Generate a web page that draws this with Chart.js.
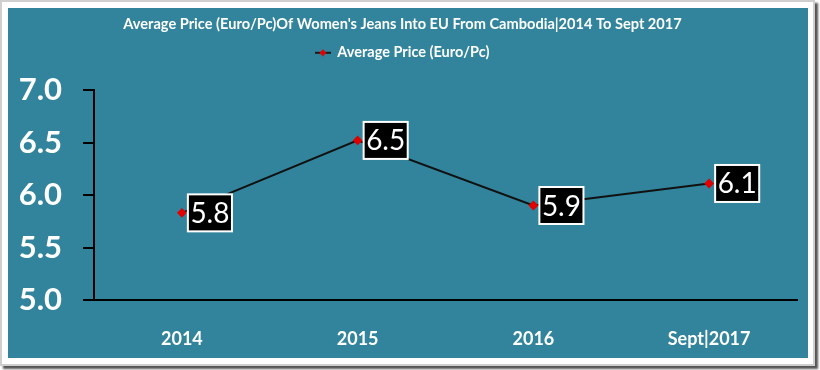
<!DOCTYPE html>
<html>
<head>
<meta charset="utf-8">
<script src="https://cdn.jsdelivr.net/npm/chart.js@4"></script>
<style>
  body { margin: 0; background: #fff; }
  .frame { position: absolute; left: 0; top: 0; width: 815px; height: 366px; box-sizing: border-box;
           border: 2px solid #cfcfcf; background: #fff; box-shadow: 3px 3px 2px #555; }
  .panel { position: absolute; left: 6px; top: 6px; width: 800px; height: 350px; background: #31849b; }
  canvas { display: block; }
</style>
</head>
<body>
<div class="frame">
  <div class="panel"><canvas id="chart" width="800" height="350"></canvas></div>
</div>
<script>
const categories = ["2014", "2015", "2016", "Sept|2017"];
const avgPrice = [5.83, 6.52, 5.90, 6.11];
const yTicks = [5.0, 5.5, 6.0, 6.5, 7.0];

const FONT = "Lato, 'Open Sans', sans-serif";

// legend marker: short dark line with red diamond
const marker = document.createElement("canvas");
marker.width = 16; marker.height = 8;
(() => {
  const c = marker.getContext("2d");
  c.strokeStyle = "#1a1a1a"; c.lineWidth = 2;
  c.beginPath(); c.moveTo(0, 4); c.lineTo(16, 4); c.stroke();
  c.fillStyle = "#e00000";
  c.beginPath(); c.moveTo(8, 0.5); c.lineTo(11.5, 4); c.lineTo(8, 7.5); c.lineTo(4.5, 4); c.closePath(); c.fill();
})();

const boxLabels = {
  id: "boxLabels",
  afterDatasetsDraw(chart) {
    const ctx = chart.ctx;
    const meta = chart.getDatasetMeta(0);
    ctx.save();
    ctx.font = "28px " + FONT;
    meta.data.forEach((pt, i) => {
      const txt = avgPrice[i].toFixed(1);
      const w = ctx.measureText(txt).width + 5;
      const h = 37;
      const x = pt.x + 6, y = pt.y - h / 2;
      ctx.fillStyle = "#000";
      ctx.fillRect(x, y, w, h);
      ctx.strokeStyle = "#fff"; ctx.lineWidth = 2;
      ctx.strokeRect(x, y, w, h);
      ctx.fillStyle = "#fff";
      ctx.textAlign = "center"; ctx.textBaseline = "middle";
      ctx.fillText(txt, x + w / 2, pt.y + 1);
    });
    ctx.restore();
  }
};

new Chart(document.getElementById("chart"), {
  type: "line",
  data: {
    labels: categories,
    datasets: [{
      label: "Average Price (Euro/Pc)",
      data: avgPrice,
      borderColor: "#111",
      borderWidth: 2,
      pointStyle: "rectRot",
      pointRadius: 3.5,
      pointBackgroundColor: "#e00000",
      pointBorderColor: "#e00000",
      tension: 0
    }]
  },
  options: {
    responsive: false,
    animation: false,
    layout: { padding: { left: 0, right: 11, top: 0, bottom: 0 } },
    plugins: {
      title: {
        display: true,
        text: "Average Price (Euro/Pc)Of Women's Jeans Into EU From Cambodia|2014 To Sept 2017",
        color: "#fff",
        font: { family: FONT, size: 14.6, weight: "bold" },
        padding: { top: 8, bottom: 4 }
      },
      // empty spacer between legend and plot area
      subtitle: {
        display: true,
        text: " ",
        weight: 500,
        font: { size: 10 },
        padding: { top: 0, bottom: 8 }
      },
      legend: {
        display: true,
        labels: {
          color: "#fff",
          font: { family: FONT, size: 14.5, weight: "bold" },
          usePointStyle: true,
          pointStyle: marker,
          boxWidth: 16,
          padding: 8
        }
      },
      tooltip: { enabled: false }
    },
    scales: {
      x: {
        offset: true,
        grid: { display: false, drawTicks: false },
        border: { color: "#000", width: 2 },
        ticks: { color: "#fff", font: { family: FONT, size: 18, weight: "bold" }, padding: 28 },
        afterFit: s => { s.height = 58; }
      },
      y: {
        min: 5, max: 7,
        afterBuildTicks: s => { s.ticks = yTicks.map(v => ({ value: v })); },
        grid: { drawOnChartArea: false, drawTicks: true, tickLength: 11, color: "#000", lineWidth: 2 },
        border: { color: "#000", width: 2 },
        ticks: {
          color: "#fff",
          font: { family: FONT, size: 31, weight: "bold" },
          padding: 21,
          callback: v => Number(v).toFixed(1)
        },
        afterFit: s => { s.width = 86; }
      }
    }
  },
  plugins: [boxLabels]
});
</script>
</body>
</html>
